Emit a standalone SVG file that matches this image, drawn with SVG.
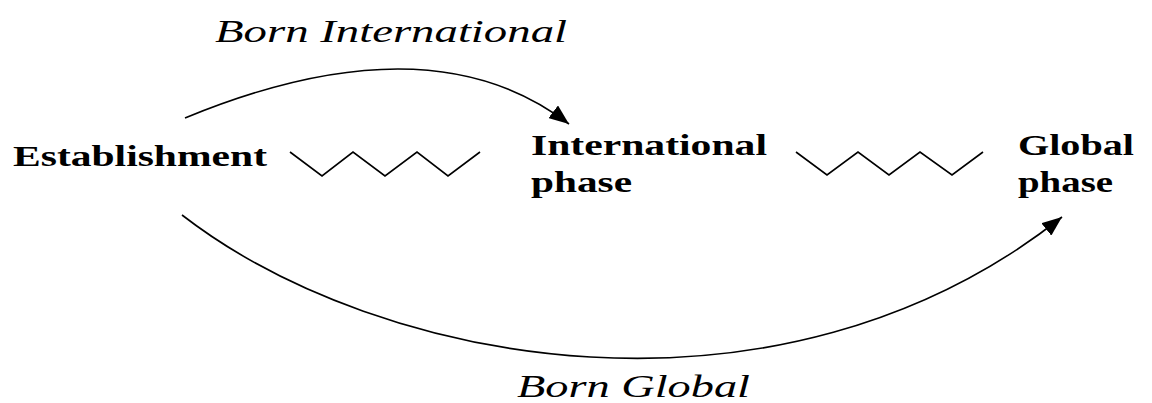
<svg xmlns="http://www.w3.org/2000/svg" width="1152" height="403" viewBox="0 0 1152 403">
  <style>
    text { font-family: 'Liberation Serif', 'Times New Roman', Times, serif; fill: #000; }
    .stage { font-weight: 700; font-size: 29px; }
    .route { font-style: italic; font-size: 32px; }
    .zig { fill: none; stroke: #000; stroke-width: 1.6; stroke-linejoin: miter; }
    .curve { fill: none; stroke: #000; stroke-width: 1.6; }
  </style>
  <defs>
    <marker id="arrow" markerUnits="userSpaceOnUse" markerWidth="22" markerHeight="16" refX="20" refY="8" orient="auto">
      <path d="M0,0 L20,8 L0,16 z" fill="#000"/>
    </marker>
  </defs>
  <rect width="1152" height="403" fill="#fff"/>

  <!-- stages -->
  <g id="establishment">
    <text class="stage" x="13" y="166" textLength="254" lengthAdjust="spacingAndGlyphs">Establishment</text>
  </g>
  <g id="international-phase">
    <text class="stage" x="531" y="155" textLength="236" lengthAdjust="spacingAndGlyphs">International</text>
    <text class="stage" x="531" y="192" textLength="101" lengthAdjust="spacingAndGlyphs">phase</text>
  </g>
  <g id="global-phase">
    <text class="stage" x="1018" y="155" textLength="116" lengthAdjust="spacingAndGlyphs">Global</text>
    <text class="stage" x="1018" y="192" textLength="95" lengthAdjust="spacingAndGlyphs">phase</text>
  </g>

  <!-- gradual progression between stages -->
  <g id="connectors">
    <polyline class="zig" points="290,152 322,176 353,152 385,176 417,152 448,176 480,152"/>
    <polyline class="zig" points="796,152 827,175 858,152 889,175 920,152 952,175 983,152"/>
    <path id="born-international-path" class="curve" d="M185,118 Q430,17 569,124" marker-end="url(#arrow)"/>
    <path id="born-global-path" class="curve" d="M182,215 C380,368 780,440 1062,217" marker-end="url(#arrow)"/>
  </g>

  <!-- route labels -->
  <g id="labels">
    <text class="route" x="215" y="42" textLength="352" lengthAdjust="spacingAndGlyphs">Born International</text>
    <text class="route" x="517" y="397" textLength="233" lengthAdjust="spacingAndGlyphs">Born Global</text>
  </g>
</svg>
